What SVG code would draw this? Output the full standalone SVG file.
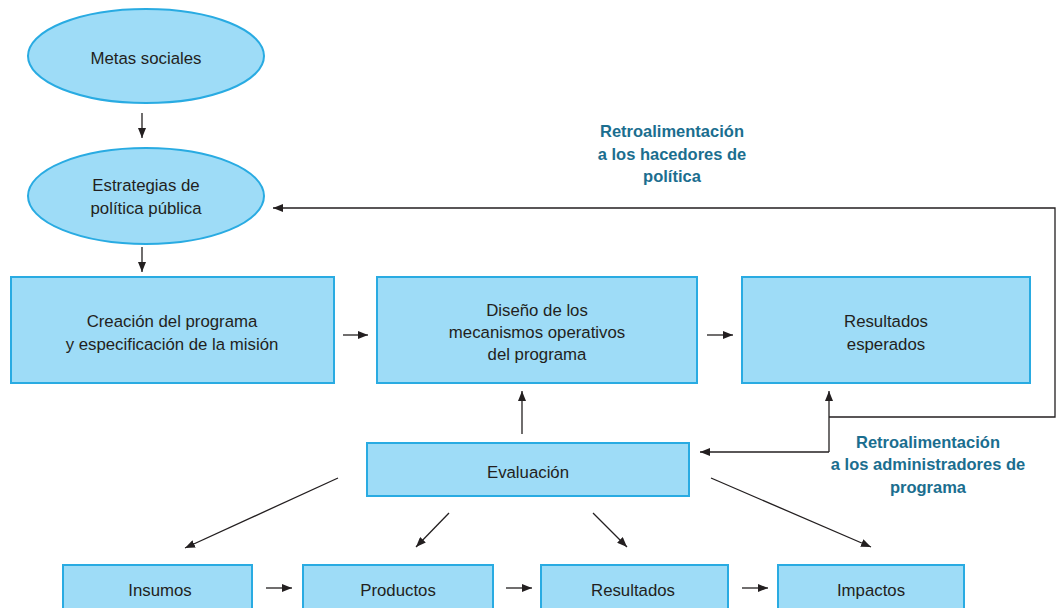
<svg xmlns="http://www.w3.org/2000/svg" width="1059" height="608" viewBox="0 0 1059 608">
<defs>
<marker id="ah" markerWidth="10" markerHeight="8" refX="10" refY="4" orient="auto" markerUnits="userSpaceOnUse">
<path d="M0,0 L10,4 L0,8 z" fill="#231f20"/>
</marker>
<style>
.n{fill:#9edcf7;stroke:#29abe2;stroke-width:2}
.t{font-family:"Liberation Sans",Arial,sans-serif;font-size:16.8px;fill:#231f20;text-anchor:middle}
.fb{font-family:"Liberation Sans",Arial,sans-serif;font-size:16.5px;font-weight:bold;fill:#1b6e8f;text-anchor:middle}
.c{stroke:#231f20;stroke-width:1.3;fill:none}
.a{marker-end:url(#ah)}
</style>
</defs>
<rect width="1059" height="608" fill="#ffffff"/>
<g id="metas"><ellipse class="n" cx="146" cy="56" rx="118" ry="47"/><text class="t" x="146" y="64">Metas sociales</text></g>
<g id="estrategias"><ellipse class="n" cx="146" cy="196" rx="118" ry="48"/><text class="t" x="146" y="191">Estrategias de</text><text class="t" x="146" y="214">política pública</text></g>
<g id="creacion"><rect class="n" x="11" y="277" width="323" height="106"/><text class="t" x="172" y="327">Creación del programa</text><text class="t" x="172" y="350">y especificación de la misión</text></g>
<g id="diseno"><rect class="n" x="377" y="277" width="320" height="106"/><text class="t" x="537" y="316">Diseño de los</text><text class="t" x="537" y="338">mecanismos operativos</text><text class="t" x="537" y="360">del programa</text></g>
<g id="esperados"><rect class="n" x="742" y="277" width="288" height="106"/><text class="t" x="886" y="327">Resultados</text><text class="t" x="886" y="350">esperados</text></g>
<g id="evaluacion"><rect class="n" x="367" y="443" width="322" height="53"/><text class="t" x="528" y="478">Evaluación</text></g>
<g id="insumos"><rect class="n" x="63" y="565" width="189" height="50"/><text class="t" x="160" y="596">Insumos</text></g>
<g id="productos"><rect class="n" x="303" y="565" width="190" height="50"/><text class="t" x="398" y="596">Productos</text></g>
<g id="resultados"><rect class="n" x="541" y="565" width="187" height="50"/><text class="t" x="633" y="596">Resultados</text></g>
<g id="impactos"><rect class="n" x="778" y="565" width="186" height="50"/><text class="t" x="871" y="596">Impactos</text></g>
<g id="labels">
<text class="fb" x="672" y="137">Retroalimentación</text>
<text class="fb" x="672" y="160">a los hacedores de</text>
<text class="fb" x="672" y="182">política</text>
<text class="fb" x="928" y="448">Retroalimentación</text>
<text class="fb" x="928" y="470">a los administradores de</text>
<text class="fb" x="928" y="493">programa</text>
</g>
<g id="connectors">
<line class="c a" x1="142" y1="113" x2="142" y2="138"/>
<line class="c a" x1="142" y1="247" x2="142" y2="272"/>
<line class="c a" x1="343" y1="335" x2="368" y2="335"/>
<line class="c a" x1="707" y1="335" x2="733" y2="335"/>
<line class="c a" x1="522" y1="434" x2="522" y2="391"/>
<polyline class="c a" points="829,417 1055,417 1055,208 273,208"/>
<line class="c a" x1="829" y1="452" x2="829" y2="391"/>
<line class="c a" x1="829" y1="452" x2="700" y2="452"/>
<line class="c a" x1="338" y1="478" x2="185" y2="548"/>
<line class="c a" x1="449" y1="513" x2="416" y2="547"/>
<line class="c a" x1="593" y1="513" x2="627" y2="547"/>
<line class="c a" x1="711" y1="478" x2="871" y2="547"/>
<line class="c a" x1="266" y1="588" x2="292" y2="588"/>
<line class="c a" x1="506" y1="588" x2="532" y2="588"/>
<line class="c a" x1="742" y1="588" x2="768" y2="588"/>
</g>
</svg>
